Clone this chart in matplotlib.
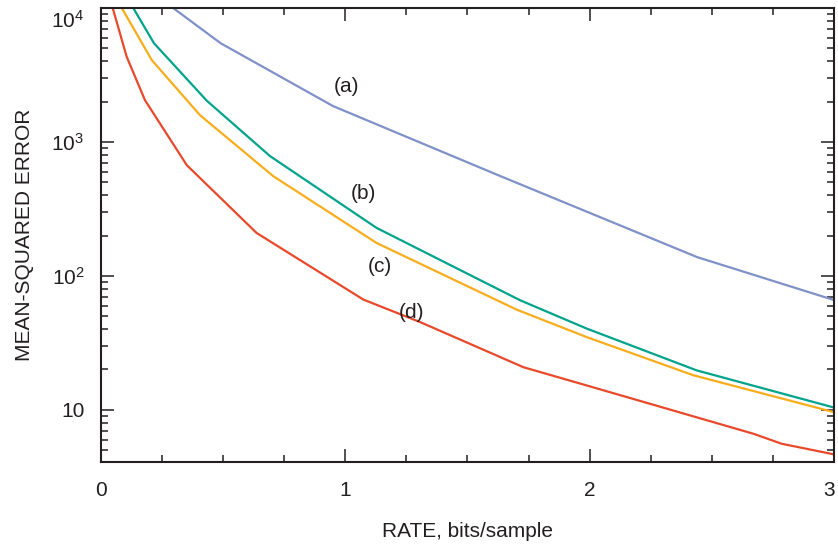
import matplotlib
matplotlib.use("Agg")
import matplotlib.pyplot as plt
import matplotlib.ticker as mticker
import matplotlib.transforms as mtransforms

plt.rcParams["font.family"] = ["Liberation Sans", "DejaVu Sans"]
plt.rcParams["mathtext.fontset"] = "custom"
plt.rcParams["mathtext.rm"] = "Liberation Sans"

# rate (bits/sample) vs mean-squared error
rate_a = [0.295, 0.49, 0.95, 1.63, 2.44, 3.0]
mse_a = [10000, 5450, 1850, 560, 138, 66]

rate_b = [0.132, 0.217, 0.433, 0.692, 1.128, 1.715, 1.988, 2.438, 3.0]
mse_b = [10000, 5450, 2030, 783, 228, 65.8, 40.4, 19.7, 10.4]

rate_c = [0.085, 0.208, 0.405, 0.705, 1.128, 1.701, 1.988, 2.425, 3.0]
mse_c = [10000, 4080, 1585, 555, 176, 56, 34.9, 18.1, 9.6]

rate_d = [0.048, 0.105, 0.18, 0.351, 0.637, 1.074, 1.306, 1.729, 1.988, 2.67, 2.786, 3.0]
mse_d = [10000, 4330, 2050, 671, 209, 66.5, 45.2, 20.8, 15.2, 6.63, 5.58, 4.65]

curve_names = ["(a)", "(b)", "(c)", "(d)"]
name_x = [1.003, 1.073, 1.142, 1.269]
name_y = [2570, 414, 118, 53.5]

x_ticks = [0, 1, 2, 3]
y_ticks = [10, 100, 1000, 10000]
y_tick_labels = ["10", r"$\mathregular{10^2}$", r"$\mathregular{10^3}$", r"$\mathregular{10^4}$"]

colors = ["#8090c8", "#00a38b", "#f8ad1d", "#e8492a"]
text_color = "#231f20"

fig = plt.figure(figsize=(8.38, 5.48), dpi=100)
ax = fig.add_axes([0.1205, 0.1575, 0.8747, 0.828])

for xs, ys, c in zip([rate_a, rate_b, rate_c, rate_d],
                     [mse_a, mse_b, mse_c, mse_d], colors):
    ax.plot(xs, ys, color=c, linewidth=1.6, solid_joinstyle="miter")

for name, x, y in zip(curve_names, name_x, name_y):
    ax.text(x, y, name, fontsize=15, color=text_color, ha="center", va="center")

ax.set_yscale("log")
ax.set_xlim(0, 3)
ax.set_ylim(4.1, 10000)

ax.xaxis.set_major_locator(mticker.FixedLocator(x_ticks))
ax.xaxis.set_minor_locator(mticker.MultipleLocator(0.25))
ax.set_yticks(y_ticks)
ax.set_yticklabels(y_tick_labels)
ax.yaxis.set_minor_locator(mticker.LogLocator(base=10, subs=range(2, 10)))
ax.yaxis.set_minor_formatter(mticker.NullFormatter())

ax.tick_params(which="both", direction="in", top=True, right=True,
               colors=text_color, width=1.1)
ax.tick_params(which="major", length=9.5, labelsize=15)
ax.tick_params(which="minor", length=5)
ax.tick_params(axis="x", which="major", pad=14)
ax.tick_params(axis="y", which="major", pad=12)

for spine in ax.spines.values():
    spine.set_color(text_color)
    spine.set_linewidth(1.5)

ax.set_xlabel("RATE, bits/sample", fontsize=15, color=text_color, labelpad=16)
ax.set_ylabel("MEAN-SQUARED ERROR", fontsize=15, color=text_color, labelpad=12)

# keep the edge labels inside the figure, as in the original
last_x = ax.get_xticklabels()[-1]
last_x.set_horizontalalignment("right")
last_x.set_transform(last_x.get_transform()
                     + mtransforms.ScaledTranslation(1 / 72, 0, fig.dpi_scale_trans))
top_label = ax.get_yticklabels()[-1]
top_label.set_transform(top_label.get_transform()
                        + mtransforms.ScaledTranslation(0, -8 / 72, fig.dpi_scale_trans))

fig.savefig("out.png", dpi=100, facecolor="white")
plt.close(fig)
